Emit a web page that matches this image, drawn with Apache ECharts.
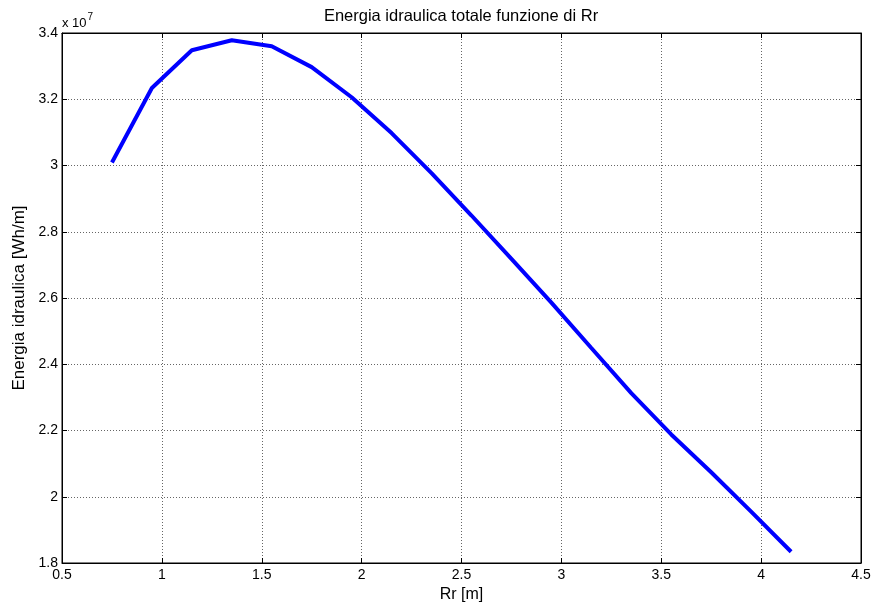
<!DOCTYPE html>
<html>
<head>
<meta charset="utf-8">
<script src="https://cdn.jsdelivr.net/npm/echarts@6/dist/echarts.min.js"></script>
<style>html,body{margin:0;padding:0;background:#fff;}#c{width:871px;height:606px;}</style>
</head>
<body>
<div id="c"></div>
<script>
const rr = [0.75, 0.95, 1.15, 1.35, 1.55, 1.75, 1.95, 2.15, 2.35, 2.55, 2.75, 2.95, 3.15, 3.35, 3.55, 3.75, 3.95, 4.15];
const energia = [3.009e7, 3.234e7, 3.348e7, 3.378e7, 3.360e7, 3.297e7, 3.206e7, 3.098e7, 2.977e7, 2.849e7, 2.718e7, 2.586e7, 2.449e7, 2.313e7, 2.188e7, 2.074e7, 1.955e7, 1.834e7];
const xTicks = ['0.5','1','1.5','2','2.5','3','3.5','4','4.5'];
const yTicks = ['1.8','2','2.2','2.4','2.6','2.8','3','3.2','3.4'];
const titleText = 'Energia idraulica totale funzione di Rr';
const xName = 'Rr [m]';
const yName = 'Energia idraulica [Wh/m]';

const font = 'Liberation Sans, Arial, sans-serif';
const chart = echarts.init(document.getElementById('c'));
const gridLine = {show: true, lineStyle: {color: '#666', type: [1, 2], width: 1}};
const hiddenLabels = {show: false};
chart.setOption({
  animation: false,
  backgroundColor: '#fff',
  grid: {left: 62, right: 10, top: 33, bottom: 43, show: true, borderColor: '#000', borderWidth: 1, containLabel: false, outerBoundsMode: 'none'},
  xAxis: [{
    type: 'value', min: 0.5, max: 4.5, interval: 0.5,
    name: xName, nameLocation: 'middle', nameGap: 23,
    nameTextStyle: {fontFamily: font, fontSize: 16, color: '#000'},
    axisLine: {show: true, lineStyle: {color: '#000'}},
    axisTick: {show: true, inside: true, length: 5, lineStyle: {color: '#000'}},
    axisLabel: {fontFamily: font, fontSize: 14, color: '#000', margin: 5, formatter: (v) => xTicks[Math.round((v - 0.5) / 0.5)]},
    splitLine: gridLine
  }, {
    type: 'value', min: 0.5, max: 4.5, interval: 0.5, position: 'top',
    axisLine: {show: true, lineStyle: {color: '#000'}},
    axisTick: {show: true, inside: true, length: 5, lineStyle: {color: '#000'}},
    axisLabel: hiddenLabels, splitLine: {show: false}
  }],
  yAxis: [{
    type: 'value', min: 1.8e7, max: 3.4e7, interval: 0.2e7,
    name: yName, nameLocation: 'middle', nameGap: 32, nameRotate: 90,
    nameTextStyle: {fontFamily: font, fontSize: 17, color: '#000'},
    axisLine: {show: true, lineStyle: {color: '#000'}},
    axisTick: {show: true, inside: true, length: 5, lineStyle: {color: '#000'}},
    axisLabel: {fontFamily: font, fontSize: 14, color: '#000', margin: 4, formatter: (v) => yTicks[Math.round((v - 1.8e7) / 0.2e7)]},
    splitLine: gridLine
  }, {
    type: 'value', min: 1.8e7, max: 3.4e7, interval: 0.2e7, position: 'right',
    axisLine: {show: true, lineStyle: {color: '#000'}},
    axisTick: {show: true, inside: true, length: 5, lineStyle: {color: '#000'}},
    axisLabel: hiddenLabels, splitLine: {show: false}
  }],
  graphic: [{
    type: 'text', x: 461, y: 8,
    style: {text: titleText, textAlign: 'center', fontFamily: font, fontSize: 16.5, fill: '#000'}
  }, {
    type: 'text', left: 62, top: 12,
    style: {
      text: '{b|x 10}{s|7}',
      rich: {
        b: {fontFamily: font, fontSize: 13, fill: '#000', verticalAlign: 'bottom'},
        s: {fontFamily: font, fontSize: 10, fill: '#000', verticalAlign: 'top', padding: [0, 0, 8, 1]}
      }
    }
  }],
  series: [{
    type: 'line',
    data: rr.map((x, i) => [x, energia[i]]),
    showSymbol: false,
    lineStyle: {color: '#0000ff', width: 4},
    itemStyle: {color: '#0000ff'}
  }]
});
</script>
</body>
</html>
